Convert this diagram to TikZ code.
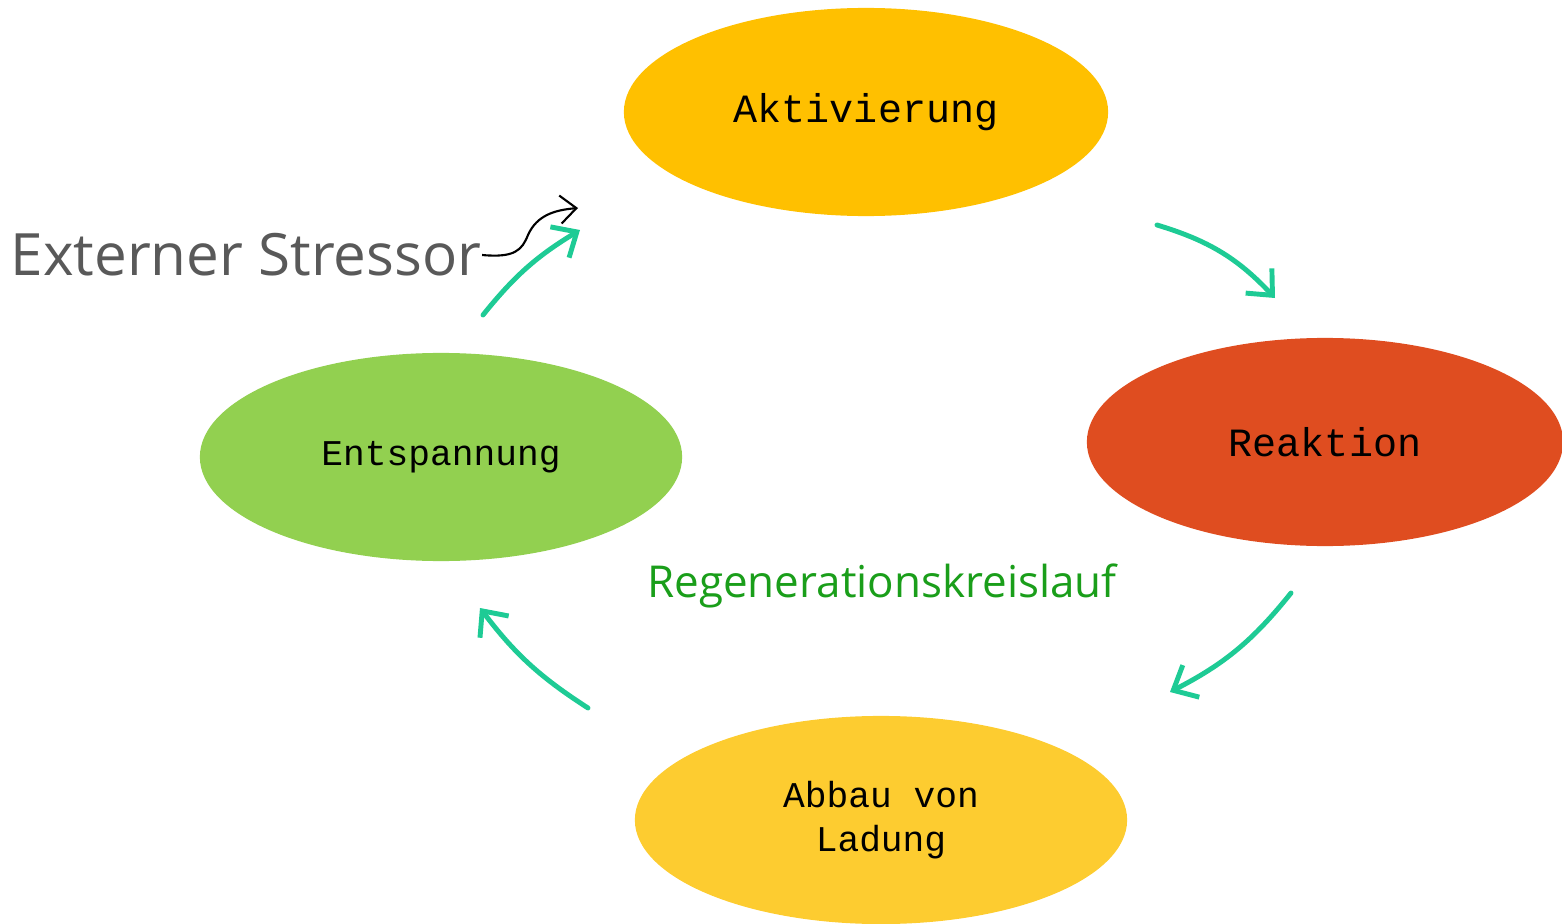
\documentclass[tikz,border=0pt]{standalone}
\usepackage{fontspec}
\newfontfamily\cyclefont{Liberation Mono}
\newfontfamily\notefont{Open Sans}
\usetikzlibrary{arrows.meta,shapes.geometric}
\definecolor{aktiv}{HTML}{FFC000}
\definecolor{reakt}{HTML}{DF4D20}
\definecolor{abbau}{HTML}{FDCC30}
\definecolor{entsp}{HTML}{92D050}
\definecolor{pfeil}{HTML}{1ECB95}
\definecolor{grau}{HTML}{595959}
\definecolor{gruen}{HTML}{1A9E1A}
\begin{document}
\begin{tikzpicture}[x=0.01cm,y=-0.01cm,
		phase/.style={
			ellipse,
			inner sep=0pt,
			align=center,
			minimum width=4.84cm,
			minimum height=2.08cm,
			font=\cyclefont\fontsize{11.4}{12}\selectfont
		},
		cycle/.style={
			draw=pfeil,
			line width=1.4pt,
			line cap=round,
			-{Straight Barb[length=2mm,width=3.6mm]}
		}
		]
		
		\useasboundingbox (0,0) rectangle (1562,924);
		
		% Phases of the cycle
		\node[phase, fill=aktiv] (akt) at (866,112) {Aktivierung};
		\node[phase, fill=reakt, minimum width=4.76cm] (rea) at (1325,442) {Reaktion};
		\node[phase, fill=abbau, minimum width=4.92cm, font=\cyclefont\fontsize{10.3}{12.5}\selectfont] (abb) at (881,820) {Abbau von\\Ladung};
		\node[phase, fill=entsp, minimum width=4.82cm, font=\cyclefont\fontsize{10.3}{12}\selectfont] (ent) at (441,457) {Entspannung};
		
		% Labels
		\node[anchor=west, inner sep=0pt, text=grau, font=\notefont\fontsize{16.6}{20}\selectfont] (str) at (10,255) {Externer Stressor};
		\node[inner sep=0pt, text=gruen, font=\notefont\fontsize{12.5}{15}\selectfont] (reg) at (882,586) {Regenerationskreislauf};
		
		% Arrow ends
		\coordinate (a1) at (1157,225);
		\coordinate (a2) at (1275,298);
		\coordinate (b1) at (1291,593);
		\coordinate (b2) at (1170,692);
		\coordinate (c1) at (588,708);
		\coordinate (c2) at (480,608);
		\coordinate (d1) at (483,315);
		\coordinate (d2) at (580,230);
		\coordinate (s2) at (578,208);
		
		% Cycle arrows
		\draw[cycle] (a1) to[bend left=15] (a2);
		\draw[cycle] (b1) to[bend left=12] (b2);
		\draw[cycle] (c1) to[bend left=10] (c2);
		\draw[cycle] (d1) to[bend left=10] (d2);
		
		% Stressor arrow
		\draw[line width=0.6pt, -{Straight Barb[length=1.6mm,width=2.8mm]}]
		(str.east) .. controls (515,258) and (522,250) .. (528,235)
		.. controls (537,215) and (555,210) .. (s2);
		
	\end{tikzpicture}
\end{document}
